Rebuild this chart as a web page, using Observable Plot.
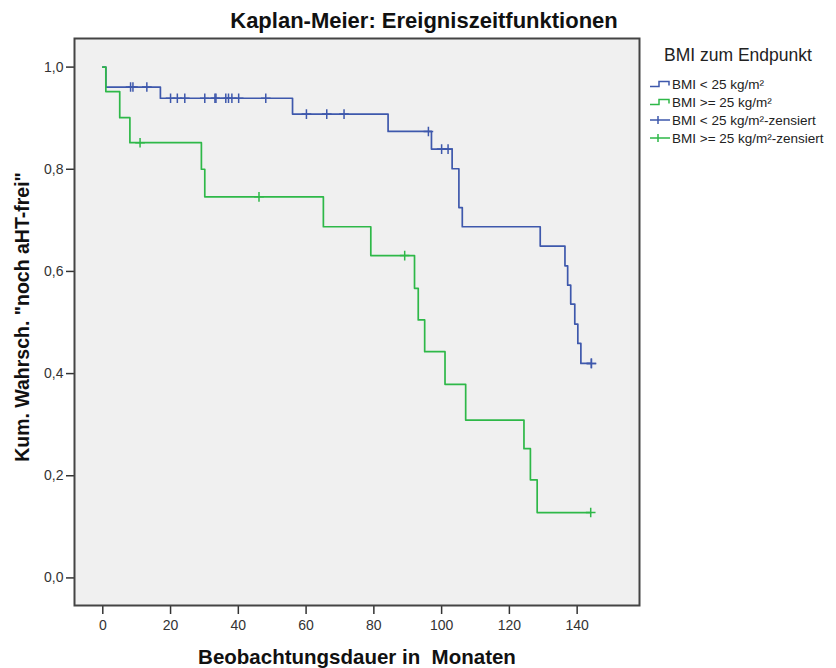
<!DOCTYPE html>
<html>
<head>
<meta charset="utf-8">
<script src="https://cdn.jsdelivr.net/npm/d3@7"></script>
<script src="https://cdn.jsdelivr.net/npm/@observablehq/plot@0.6"></script>
<style>
  html, body { margin: 0; padding: 0; background: #ffffff; }
  #chart svg { display: block; }
</style>
</head>
<body>
<div id="chart"></div>
<script>
// ---- Data ----
const seriesNames = ["BMI < 25 kg/m²", "BMI >= 25 kg/m²"];
const legendLabels = ["BMI < 25 kg/m²", "BMI >= 25 kg/m²", "BMI < 25 kg/m²-zensiert", "BMI >= 25 kg/m²-zensiert"];

const blueTimes = [0, 0.9, 17, 56, 84.2, 97, 103.1, 105.1, 106.1, 129.1, 136.4, 137.2, 138.1, 139.3, 140.2, 141.1, 144.2];
const blueSurv  = [1, 0.961, 0.939, 0.908, 0.874, 0.8395, 0.801, 0.725, 0.6875, 0.6497, 0.611, 0.573, 0.536, 0.497, 0.459, 0.420, 0.420];
const blueCensored = [8.2, 8.9, 13, 20, 22, 24.2, 30.1, 33.1, 33.4, 36.3, 37.1, 38.1, 40.1, 48.1, 60.1, 66.1, 71.2, 96.1, 100, 101.9, 144.2, 144.2];

const greenTimes = [0, 0.9, 5, 8, 29.1, 30.1, 65.1, 79.1, 92, 93.1, 95, 101, 107.1, 124.3, 126.2, 128.2, 144];
const greenSurv  = [1, 0.952, 0.901, 0.852, 0.800, 0.746, 0.6875, 0.631, 0.567, 0.505, 0.443, 0.379, 0.309, 0.253, 0.192, 0.128, 0.128];
const greenCensored = [11, 46.1, 89.1, 144];

const xTicks = [0, 20, 40, 60, 80, 100, 120, 140];
const yTicks = [0, 0.2, 0.4, 0.6, 0.8, 1.0];

const colors = ["#3E58AC", "#2EB848"];

// ---- Build tables ----
function stepValue(times, surv, t) {
  let v = surv[0];
  for (let i = 0; i < times.length; i++) if (times[i] <= t) v = surv[i];
  return v;
}
const curves = [
  ...blueTimes.map((t, i) => ({time: t, surv: blueSurv[i], group: seriesNames[0]})),
  ...greenTimes.map((t, i) => ({time: t, surv: greenSurv[i], group: seriesNames[1]}))
];
const censors = [
  ...blueCensored.map(t => ({time: t, surv: stepValue(blueTimes, blueSurv, t), group: seriesNames[0]})),
  ...greenCensored.map(t => ({time: t, surv: stepValue(greenTimes, greenSurv, t), group: seriesNames[1]}))
];

const font = "Arial, 'Liberation Sans', sans-serif";
const fmt = d => d.toFixed(1).replace(".", ",");

const chart = Plot.plot({
  width: 836,
  height: 668,
  marginLeft: 74,
  marginRight: 197,
  marginTop: 38,
  marginBottom: 63,
  style: {fontFamily: font, background: "#ffffff", color: "#222"},
  x: {domain: [-8.35, 158.4]},
  y: {domain: [-0.054, 1.056]},
  color: {domain: seriesNames, range: colors},
  marks: [
    Plot.frame({fill: "#f0f0f0", stroke: null}),
    Plot.axisX({ticks: xTicks, tickSize: 9, tickPadding: 6, fontSize: 14, label: null, stroke: "#333", strokeWidth: 1.5, fill: "#333"}),
    Plot.axisY({ticks: yTicks, tickSize: 8, tickPadding: 3, fontSize: 14, tickFormat: fmt, label: null, stroke: "#333", strokeWidth: 1.5, fill: "#333"}),
    Plot.line(curves, {x: "time", y: "surv", z: "group", stroke: "group", curve: "step-after", strokeWidth: 1.7}),
    Plot.dot(censors, {x: "time", y: "surv", stroke: "group", symbol: "plus", r: 3.2, strokeWidth: 1.5}),
    Plot.frame({stroke: "#444", strokeWidth: 2}),
    Plot.text(["Kaplan-Meier: Ereigniszeitfunktionen"], {frameAnchor: "top", lineAnchor: "middle", dx: 67, dy: -18, fontSize: 22, fontWeight: "bold", fill: "#111"}),
    Plot.text(["Beobachtungsdauer in\u00a0 Monaten"], {frameAnchor: "bottom", lineAnchor: "middle", textAnchor: "middle", dy: 52, fontSize: 20.5, fontWeight: "bold", fill: "#111"}),
    Plot.text(["Kum. Wahrsch. \"noch aHT-frei\""], {frameAnchor: "left", textAnchor: "middle", lineAnchor: "middle", dx: -52, dy: -5, rotate: -90, fontSize: 19.5, fontWeight: "bold", fill: "#111"})
  ]
});

// ---- Legend (outside the frame) ----
const svg = d3.select(chart);
const lg = svg.append("g").attr("font-family", font).attr("text-anchor", "start");
lg.append("text").attr("x", 664).attr("y", 55).attr("dy", "0.35em")
  .attr("font-size", 17.5).attr("fill", "#222").text("BMI zum Endpunkt");
const rowY = [84, 102, 120, 138];
legendLabels.forEach((lab, i) => {
  const y = rowY[i];
  const c = colors[i % 2];
  if (i < 2) {
    lg.append("path")
      .attr("d", `M650,${y + 2.5}H659V${y - 2.5}H669V${y + 1.5}`)
      .attr("fill", "none").attr("stroke", c).attr("stroke-width", 1.5);
  } else {
    lg.append("path")
      .attr("d", `M650,${y}H670M658,${y - 4}V${y + 4}`)
      .attr("fill", "none").attr("stroke", c).attr("stroke-width", 1.5);
  }
  lg.append("text").attr("x", 672).attr("y", y).attr("dy", "0.35em")
    .attr("font-size", 13.5).attr("fill", "#222").text(lab);
});

document.getElementById("chart").appendChild(chart);
</script>
</body>
</html>
